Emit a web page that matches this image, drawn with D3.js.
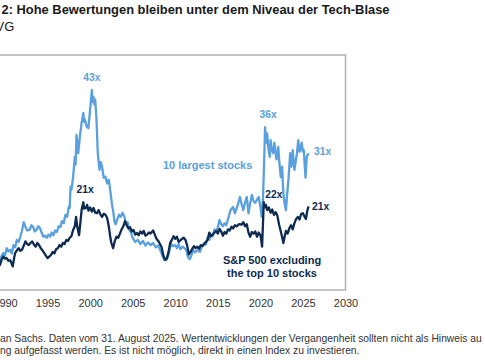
<!DOCTYPE html>
<html><head><meta charset="utf-8">
<script src="https://cdn.jsdelivr.net/npm/d3@7"></script>
<style>html,body{margin:0;padding:0;background:#fff;overflow:hidden}svg{display:block}</style>
</head><body>
<svg id="c" width="485" height="360"></svg>
<script>
const titleText = "2: Hohe Bewertungen bleiben unter dem Niveau der Tech-Blase";
const subtitleText = "VG";
const footLines = [
  "an Sachs. Daten vom 31. August 2025. Wertentwicklungen der Vergangenheit sollten nicht als Hinweis au",
  "ng aufgefasst werden. Es ist nicht möglich, direkt in einen Index zu investieren."
];
const tickYears = [1990, 1995, 2000, 2005, 2010, 2015, 2020, 2025, 2030];

const lightYears = [1988.5,1988.9,1989.2,1989.41,1989.6,1989.8,1990.0,1990.2,1990.4,1990.6,1990.8,1991.0,1991.2,1991.4,1991.6,1991.8,1992.0,1992.2,1992.4,1992.6,1992.9,1993.1,1993.3,1993.5,1993.7,1993.9,1994.1,1994.3,1994.5,1994.7,1994.9,1995.1,1995.3,1995.5,1995.7,1995.9,1996.1,1996.3,1996.5,1996.7,1996.9,1997.1,1997.3,1997.5,1997.6,1997.7,1997.8,1998.0,1998.2,1998.3,1998.4,1998.5,1998.6,1998.8,1999.0,1999.2,1999.3,1999.4,1999.6,1999.8,1999.9,2000.0,2000.2,2000.3,2000.4,2000.5,2000.6,2000.75,2000.9,2001.1,2001.25,2001.4,2001.6,2001.8,2002.0,2002.2,2002.4,2002.6,2002.7,2002.85,2003.0,2003.2,2003.4,2003.6,2003.8,2004.0,2004.2,2004.4,2004.6,2004.8,2005.0,2005.3,2005.6,2005.9,2006.2,2006.5,2006.8,2007.1,2007.4,2007.7,2008.0,2008.3,2008.5,2008.7,2008.9,2009.1,2009.3,2009.5,2009.7,2010.0,2010.2,2010.4,2010.6,2010.9,2011.1,2011.3,2011.5,2011.7,2011.9,2012.1,2012.3,2012.6,2012.9,2013.1,2013.4,2013.6,2013.8,2014.0,2014.2,2014.4,2014.6,2014.8,2015.0,2015.2,2015.4,2015.6,2015.8,2016.0,2016.2,2016.5,2016.8,2017.0,2017.3,2017.6,2017.8,2018.0,2018.2,2018.4,2018.6,2018.8,2019.0,2019.2,2019.4,2019.6,2019.8,2020.0,2020.15,2020.3,2020.45,2020.55,2020.7,2020.8,2020.95,2021.1,2021.2,2021.35,2021.5,2021.65,2021.8,2021.9,2022.1,2022.25,2022.4,2022.55,2022.7,2022.85,2023.0,2023.15,2023.3,2023.5,2023.65,2023.8,2024.0,2024.3,2024.45,2024.6,2024.7,2024.85,2025.0,2025.1,2025.3,2025.45,2025.66];
const lightValues = [9.6,10.4,10.0,10.7,11.5,12.1,11.6,13.0,12.4,12.7,12.0,13.6,13.2,14.6,14.2,15.2,16.4,18.0,17.1,16.4,16.5,17.4,17.1,16.2,16.5,17.2,16.9,16.0,15.2,15.4,15.0,15.6,15.2,16.0,15.5,16.4,16.1,17.2,17.1,18.2,17.8,19.4,19.0,21.0,20.7,24.8,24.2,26.6,30.5,29.0,34.7,33.0,31.2,34.4,37.0,38.9,37.2,37.6,36.3,36.0,37.8,39.5,43.3,41.0,42.0,40.5,41.4,37.6,31.2,28.0,29.5,28.6,26.5,26.7,25.4,26.1,23.6,21.0,20.3,18.2,17.6,18.6,19.4,19.0,19.8,19.2,17.8,18.0,16.5,16.0,15.0,14.2,14.6,13.8,14.4,13.5,14.1,13.6,14.0,13.2,13.5,12.4,11.5,10.8,10.7,11.2,12.4,14.0,13.4,13.6,13.0,13.8,12.8,13.3,13.0,12.6,11.3,10.9,11.6,12.7,12.2,12.6,12.3,13.2,14.0,13.7,15.0,14.6,15.6,15.3,16.6,16.2,17.0,18.4,17.6,17.2,17.8,17.4,18.6,20.3,20.9,19.7,21.0,22.8,21.4,20.3,21.8,22.8,19.7,21.6,23.2,22.0,21.7,22.3,22.8,21.0,19.0,22.2,30.0,36.2,33.2,35.0,32.0,30.5,33.7,31.8,31.2,33.2,31.0,30.0,32.4,29.0,26.6,28.6,23.6,21.5,20.3,23.5,26.1,31.2,28.6,31.8,28.0,31.2,33.7,31.5,31.8,33.2,31.5,31.8,26.5,30.5,31.2];

const darkYears = [1988.5,1988.9,1989.2,1989.41,1989.6,1989.8,1990.0,1990.2,1990.4,1990.6,1990.8,1990.9,1991.1,1991.2,1991.4,1991.6,1991.8,1992.0,1992.2,1992.4,1992.6,1992.8,1993.0,1993.2,1993.4,1993.6,1993.8,1994.0,1994.2,1994.4,1994.6,1994.8,1995.0,1995.2,1995.4,1995.6,1995.8,1996.0,1996.2,1996.4,1996.6,1996.8,1997.0,1997.2,1997.4,1997.6,1997.8,1998.0,1998.2,1998.35,1998.5,1998.7,1998.85,1999.0,1999.2,1999.3,1999.5,1999.65,1999.8,2000.0,2000.2,2000.4,2000.6,2000.8,2001.0,2001.2,2001.4,2001.6,2001.8,2002.0,2002.2,2002.4,2002.5,2002.7,2002.9,2003.1,2003.3,2003.5,2003.7,2003.9,2004.1,2004.3,2004.5,2004.7,2004.9,2005.1,2005.3,2005.5,2005.7,2005.9,2006.1,2006.3,2006.5,2006.7,2006.9,2007.1,2007.4,2007.6,2007.8,2008.0,2008.2,2008.4,2008.6,2008.8,2009.0,2009.2,2009.4,2009.6,2009.8,2010.0,2010.2,2010.4,2010.6,2010.8,2011.0,2011.2,2011.4,2011.6,2011.8,2012.0,2012.2,2012.4,2012.6,2012.8,2013.0,2013.2,2013.5,2013.8,2014.0,2014.2,2014.4,2014.6,2014.8,2015.0,2015.2,2015.4,2015.6,2015.8,2016.0,2016.2,2016.4,2016.6,2016.8,2017.0,2017.2,2017.5,2017.8,2018.0,2018.2,2018.4,2018.6,2018.8,2019.0,2019.2,2019.4,2019.6,2019.8,2020.0,2020.1,2020.2,2020.3,2020.4,2020.5,2020.65,2020.8,2021.0,2021.2,2021.4,2021.6,2021.8,2022.0,2022.2,2022.4,2022.55,2022.7,2022.85,2023.0,2023.2,2023.4,2023.6,2023.8,2024.0,2024.2,2024.4,2024.6,2024.8,2025.0,2025.2,2025.35,2025.5,2025.66];
const darkValues = [9.8,10.5,10.1,9.8,10.8,11.4,11.0,11.1,10.6,10.7,10.0,9.5,11.4,12.1,12.6,13.0,12.5,12.7,13.5,14.3,13.8,13.6,14.0,14.3,13.7,13.3,14.0,13.6,13.0,12.6,12.1,11.6,11.1,11.4,11.7,12.3,12.0,12.8,13.0,13.6,13.3,14.0,13.8,14.6,14.4,15.0,15.3,16.5,17.2,19.0,17.0,15.5,17.8,20.3,21.8,20.6,20.7,21.3,20.2,20.8,20.0,20.7,19.8,19.7,20.3,19.5,19.0,19.6,19.4,18.8,17.1,14.8,14.0,13.0,14.4,15.2,15.0,15.8,16.6,17.2,18.2,17.4,16.8,17.0,16.2,16.5,15.6,15.9,15.5,16.2,15.8,16.3,15.4,15.6,16.0,15.8,16.4,15.6,14.8,14.4,13.8,13.2,11.6,10.8,11.0,12.2,14.0,14.6,15.3,14.8,15.2,14.2,14.5,14.8,15.0,14.6,13.5,11.8,12.3,12.9,13.4,13.0,13.3,12.9,13.6,13.4,14.0,14.6,16.0,15.3,15.6,16.0,16.3,15.8,16.7,16.2,15.4,16.1,15.8,16.6,16.4,17.1,16.8,17.4,17.2,17.6,17.5,18.0,17.2,17.6,16.0,15.2,16.1,15.8,16.2,15.2,16.0,15.5,14.6,13.3,17.5,21.8,20.8,21.3,20.3,20.8,19.8,20.4,19.4,19.9,19.2,17.5,16.2,15.2,14.0,15.2,16.3,15.8,16.8,17.4,16.6,17.8,18.6,19.0,18.5,19.6,19.7,19.0,18.6,20.1,21.0];

const peakLabels = [
  {text: "43x", year: 2000.2, value: 43.3, series: "light", dx: 0, dy: -9},
  {text: "21x", year: 1999.4, value: 21.8, series: "dark", dx: 0, dy: -9},
  {text: "36x", year: 2020.55, value: 36.2, series: "light", dx: 3, dy: -9},
  {text: "22x", year: 2020.4, value: 21.8, series: "dark", dx: 10, dy: -4},
  {text: "31x", year: 2025.66, value: 31.2, series: "light", dx: 14, dy: 2},
  {text: "21x", year: 2025.66, value: 21.0, series: "dark", dx: 12, dy: 4}
];
const seriesNames = {light: ["10 largest stocks"], dark: ["S&P 500 excluding", "the top 10 stocks"]};

const LIGHT = "#5aa0de", DARK = "#0d2b50";
const svg = d3.select("#c");
const x = d3.scaleLinear().domain([1990, 2030]).range([5, 345.5]);
const y = d3.scaleLinear().domain([5, 50]).range([290, 55]);

// title & subtitle
svg.append("text").attr("x", 1.5).attr("y", 13.5)
  .attr("font-family", "Liberation Sans, Arial, sans-serif").attr("font-weight", "bold")
  .attr("font-size", 12.9).attr("fill", "#1a1a1a").text(titleText);
svg.append("text").attr("x", -4.5).attr("y", 30.5)
  .attr("font-family", "Liberation Sans, Arial, sans-serif")
  .attr("font-size", 13).attr("fill", "#1a1a1a").text(subtitleText);

// plot frame
svg.append("rect").attr("x", -80).attr("y", y(50)).attr("width", x(2030) + 80).attr("height", y(5) - y(50))
  .attr("fill", "none").attr("stroke", "#ababab").attr("stroke-width", 1.4);

// axis
const ax = svg.append("g").attr("transform", `translate(0,${y(5)})`)
  .call(d3.axisBottom(x).tickValues(tickYears).tickFormat(d3.format("d")).tickSize(0).tickPadding(9));
ax.select(".domain").remove();
ax.selectAll("text").attr("font-family", "Liberation Sans, Arial, sans-serif").attr("font-size", 11).attr("fill", "#333");

// lines
const line = d3.line().x(d => x(d[0])).y(d => y(d[1]));
const lightData = d3.zip(lightYears, lightValues);
const darkData = d3.zip(darkYears, darkValues);
svg.append("path").datum(lightData).attr("d", line).attr("fill", "none")
  .attr("stroke", LIGHT).attr("stroke-width", 2.3).attr("stroke-linejoin", "round");
svg.append("path").datum(darkData).attr("d", line).attr("fill", "none")
  .attr("stroke", DARK).attr("stroke-width", 2.3).attr("stroke-linejoin", "round");

// peak labels
peakLabels.forEach(l => {
  svg.append("text").attr("x", x(l.year) + l.dx).attr("y", y(l.value) + l.dy)
    .attr("text-anchor", "middle").attr("font-family", "Liberation Sans, Arial, sans-serif")
    .attr("font-weight", "bold").attr("font-size", 10.3)
    .attr("fill", l.series === "light" ? LIGHT : DARK).text(l.text);
});

// series name labels
svg.append("text").attr("x", 163).attr("y", 169)
  .attr("font-family", "Liberation Sans, Arial, sans-serif").attr("font-weight", "bold")
  .attr("font-size", 11).attr("fill", LIGHT).text(seriesNames.light[0]);
seriesNames.dark.forEach((t, i) => {
  svg.append("text").attr("x", 272).attr("y", 264 + i * 13).attr("text-anchor", "middle")
    .attr("font-family", "Liberation Sans, Arial, sans-serif").attr("font-weight", "bold")
    .attr("font-size", 11).attr("fill", DARK).text(t);
});

// footnote
footLines.forEach((t, i) => {
  svg.append("text").attr("x", 0).attr("y", 341.5 + i * 12)
    .attr("font-family", "Liberation Sans, Arial, sans-serif")
    .attr("font-size", 10.3).attr("fill", "#333").text(t);
});
</script>
</body></html>
